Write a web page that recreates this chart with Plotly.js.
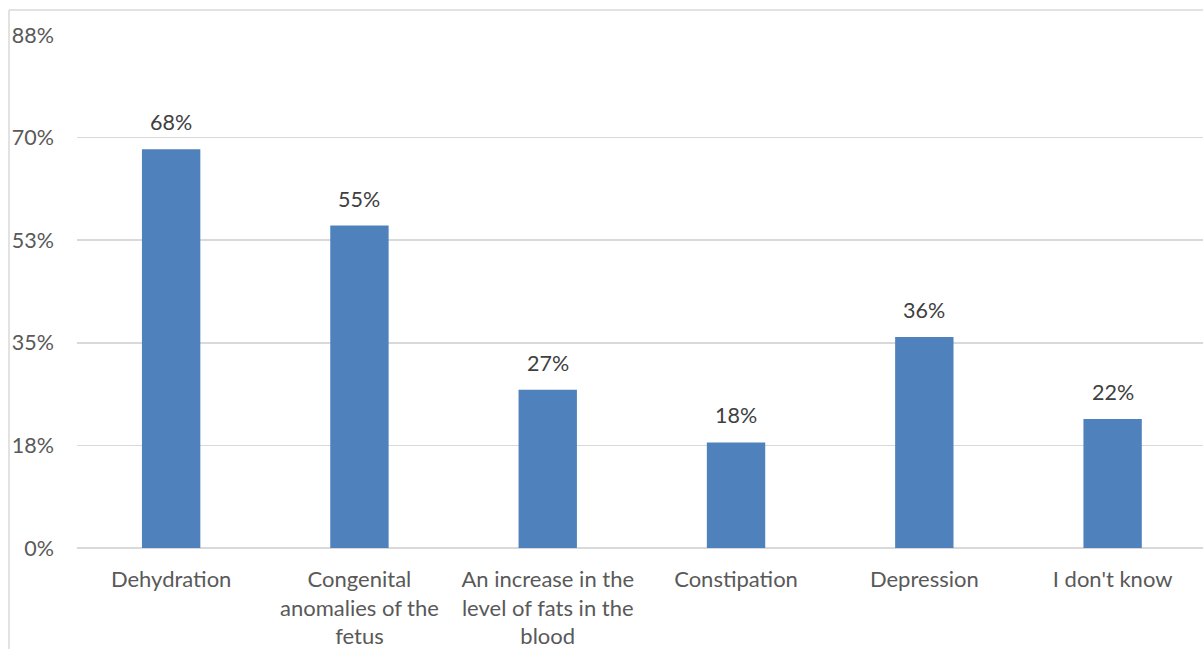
<!DOCTYPE html>
<html><head><meta charset="utf-8">
<script src="https://cdn.plot.ly/plotly-3.0.1.min.js"></script>
<style>html,body{margin:0;padding:0;background:#fff;}#chart{width:1203px;height:649px;}</style>
</head><body><div id="chart"></div>
<script>
const categories = ["Dehydration", "Congenital<br>anomalies of the<br>fetus", "An increase in the<br>level of fats in the<br>blood", "Constipation", "Depression", "I don't know"];
const values = [68, 55, 27, 18, 36, 22];
const labels = ["68%", "55%", "27%", "18%", "36%", "22%"];
const tickVals = [0, 17.5, 35, 52.5, 70, 87.5];
const tickText = ["0%", "18%", "35%", "53%", "70%", "88%"];

const FONT = "Lato, 'Open Sans', sans-serif";
const data = [{
  type: "bar",
  x: categories,
  y: values,
  marker: {color: "#4f81bd"},
  hoverinfo: "none"
}];
const annotations = categories.map((c, i) => ({
  x: c, y: values[i], text: labels[i], showarrow: false,
  yanchor: "bottom", yshift: 12, font: {family: FONT, size: 21.5, color: "#404040"}
}));
const layout = {
  width: 1203, height: 649,
  margin: {l: 77, r: 0, t: 35, b: 101},
  paper_bgcolor: "#fff", plot_bgcolor: "#fff",
  bargap: 0.69,
  showlegend: false,
  font: {family: FONT, size: 22, color: "#595959"},
  xaxis: {
    type: "category",
    range: [-0.5, 5.48],
    showgrid: false, zeroline: false, showline: false,
    ticks: "", ticklabelstandoff: 16,
    tickfont: {family: FONT, size: 22, color: "#595959"}
  },
  yaxis: {
    range: [0, 87.5],
    tickvals: tickVals, ticktext: tickText,
    showgrid: true, gridcolor: "#d9d9d9", gridwidth: 1.5,
    zeroline: true, zerolinecolor: "#d9d9d9", zerolinewidth: 1.5,
    showline: false, ticks: "", ticklabelstandoff: 22,
    tickfont: {family: FONT, size: 21.5, color: "#595959"}
  },
  annotations: annotations,
  shapes: [
    {type: "line", xref: "paper", yref: "paper", x0: -0.0604, x1: -0.0604, y0: 1.0487, y1: -0.2, line: {color: "#d9d9d9", width: 1.5}},
    {type: "line", xref: "paper", yref: "paper", x0: -0.0604, x1: 1.01, y0: 1.0487, y1: 1.0487, line: {color: "#d9d9d9", width: 1.5}}
  ]
};
Plotly.newPlot("chart", data, layout, {displayModeBar: false, staticPlot: true});
</script></body></html>
